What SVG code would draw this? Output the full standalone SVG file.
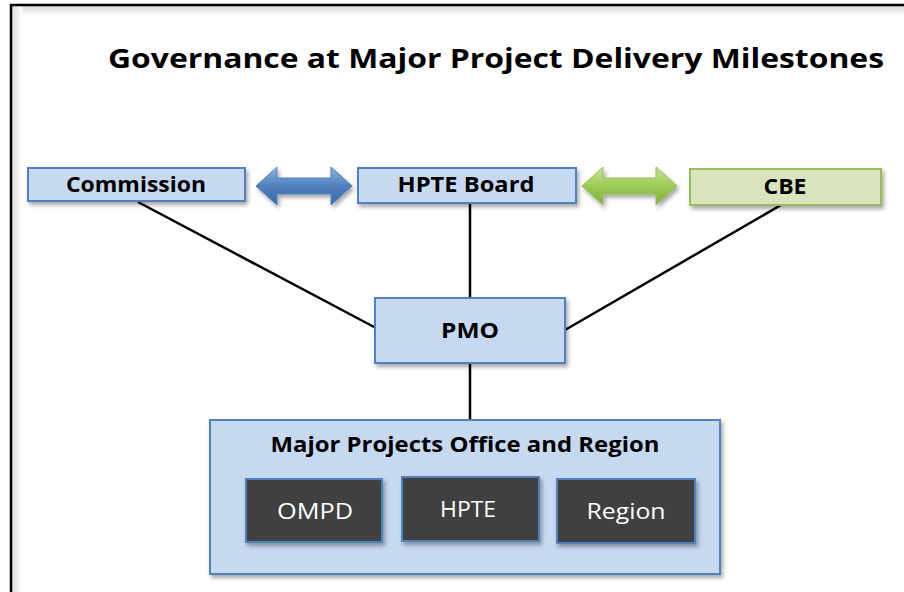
<svg xmlns="http://www.w3.org/2000/svg" width="904" height="592" viewBox="0 0 904 592">
<defs>
<filter id="sh" x="-10%" y="-10%" width="130%" height="140%">
<feDropShadow dx="2" dy="3" stdDeviation="2" flood-color="#000" flood-opacity="0.35"/>
</filter>
<linearGradient id="gT" x1="0" y1="0" x2="0" y2="1"><stop offset="0" stop-color="#dcdcdc"/><stop offset="1" stop-color="#fff"/></linearGradient>
<linearGradient id="gL" x1="0" y1="0" x2="1" y2="0"><stop offset="0" stop-color="#dcdcdc"/><stop offset="1" stop-color="#fff"/></linearGradient>
<linearGradient id="blueA" x1="0" y1="0" x2="0" y2="1"><stop offset="0" stop-color="#8fb4e3"/><stop offset="0.5" stop-color="#4f81bd"/><stop offset="1" stop-color="#3a6aa8"/></linearGradient>
<linearGradient id="greenA" x1="0" y1="0" x2="0" y2="1"><stop offset="0" stop-color="#c9e59a"/><stop offset="0.5" stop-color="#9bcb55"/><stop offset="1" stop-color="#7fae3a"/></linearGradient>
</defs>
<style>
.lbl{font-family:"Open Sans",Lato,"Liberation Sans",sans-serif;font-weight:bold;font-size:21px;fill:#000;text-anchor:middle}
.wl{font-family:"Open Sans",Lato,"Liberation Sans",sans-serif;font-size:22px;fill:#fff;text-anchor:middle}
.bbox{fill:#c6d9f1;stroke:#4f81bd;stroke-width:2}
.gbox{fill:#d7e4bd;stroke:#9bbb59;stroke-width:2}
.dbox{fill:#404040;stroke:#4f81bd;stroke-width:2}
.conn{stroke:#000;stroke-width:2.5;fill:none}
</style>
<rect width="904" height="592" fill="#fff"/>
<rect x="12" y="6" width="892" height="10" fill="url(#gT)"/>
<rect x="12" y="6" width="10" height="586" fill="url(#gL)"/>
<path d="M11,592 V5 H904" fill="none" stroke="#000" stroke-width="2.5"/>
<text x="496" y="68" font-family="'Open Sans',Lato,'Liberation Sans',sans-serif" font-weight="bold" font-size="26" text-anchor="middle" textLength="776" lengthAdjust="spacingAndGlyphs">Governance at Major Project Delivery Milestones</text>
<g id="connectors">
<line class="conn" x1="138" y1="202" x2="376" y2="328"/>
<line class="conn" x1="470" y1="203" x2="470" y2="298"/>
<line class="conn" x1="781" y1="205" x2="565" y2="330"/>
<line class="conn" x1="470" y1="363" x2="470" y2="420"/>
<path d="M256,186 L277,167 L277,178 L331,178 L331,167 L352,186 L331,205 L331,194 L277,194 L277,205 Z" fill="url(#blueA)" stroke="#4f81bd" stroke-width="1" filter="url(#sh)"/>
<path d="M582,186 L603,167 L603,178 L656,178 L656,167 L677,186 L656,205 L656,194 L603,194 L603,205 Z" fill="url(#greenA)" stroke="#9bbb59" stroke-width="1" filter="url(#sh)"/>
</g>
<g id="commission">
<rect class="bbox" x="28" y="168" width="217" height="33" filter="url(#sh)"/>
<text class="lbl" x="136" y="192" textLength="140" lengthAdjust="spacingAndGlyphs">Commission</text>
</g>
<g id="hpte-board">
<rect class="bbox" x="358" y="168" width="218" height="35" filter="url(#sh)"/>
<text class="lbl" x="466" y="192" textLength="137" lengthAdjust="spacingAndGlyphs">HPTE Board</text>
</g>
<g id="cbe">
<rect class="gbox" x="690" y="169" width="191" height="36" filter="url(#sh)"/>
<text class="lbl" x="785" y="194" textLength="43" lengthAdjust="spacingAndGlyphs">CBE</text>
</g>
<g id="pmo">
<rect class="bbox" x="375" y="298" width="190" height="65" filter="url(#sh)"/>
<text class="lbl" x="470" y="338" textLength="58" lengthAdjust="spacingAndGlyphs">PMO</text>
</g>
<g id="major-projects">
<rect class="bbox" x="210" y="420" width="510" height="154" filter="url(#sh)"/>
<text class="lbl" x="465" y="452" textLength="389" lengthAdjust="spacingAndGlyphs">Major Projects Office and Region</text>
</g>
<g id="ompd">
<rect class="dbox" x="246" y="479" width="136" height="63" filter="url(#sh)"/>
<text class="wl" x="315" y="519" textLength="76" lengthAdjust="spacingAndGlyphs">OMPD</text>
</g>
<g id="hpte">
<rect class="dbox" x="402" y="477" width="137" height="64" filter="url(#sh)"/>
<text class="wl" x="468" y="517" textLength="56" lengthAdjust="spacingAndGlyphs">HPTE</text>
</g>
<g id="region">
<rect class="dbox" x="557" y="479" width="138" height="64" filter="url(#sh)"/>
<text class="wl" x="626" y="519" textLength="79" lengthAdjust="spacingAndGlyphs">Region</text>
</g>
</svg>
